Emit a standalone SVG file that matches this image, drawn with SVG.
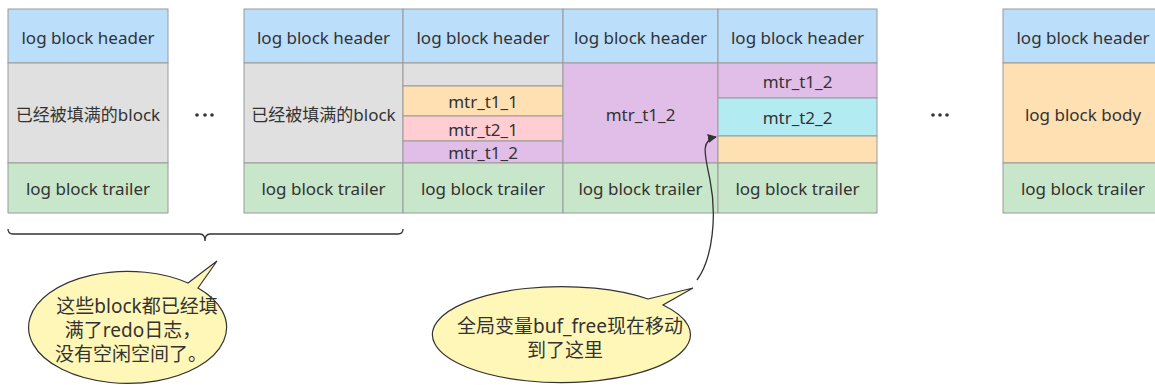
<svg xmlns="http://www.w3.org/2000/svg" width="1155" height="385" viewBox="0 0 1155 385">
<defs>
<style>
.c{stroke:#9a9a9a;stroke-width:1}
.hd{fill:#bbdefb}.gr{fill:#e0e0e0}.tr{fill:#c8e6c9}.or{fill:#ffe0b2}.pk{fill:#ffcdd2}.pu{fill:#e1bee7}.cy{fill:#b2ebf2}
text{font-family:"Noto Sans","Noto Sans CJK SC",sans-serif;font-size:17px;fill:#333;text-anchor:middle;dominant-baseline:central}
.big{font-size:19px}
.bub{fill:#fff7b8;stroke:#333;stroke-width:1.2}
.ln{fill:none;stroke:#333;stroke-width:1.3}
</style>
<marker id="ah" viewBox="0 0 10 10" refX="9" refY="5" markerWidth="9" markerHeight="9" markerUnits="userSpaceOnUse" orient="auto">
<path d="M0,0 L10,5 L0,10 z" fill="#333"/>
</marker>
</defs>
<rect width="1155" height="385" fill="#fff"/>

<g id="block1">
<rect class="c hd" x="8" y="9" width="160" height="54"/><text x="88" y="37">log block header</text>
<rect class="c gr" x="8" y="63" width="160" height="100"/><text x="88" y="114">已经被填满的block</text>
<rect class="c tr" x="8" y="163" width="160" height="50"/><text x="88" y="188">log block trailer</text>
</g>

<g id="dots1" fill="#333"><circle cx="197" cy="115" r="1.8"/><circle cx="205" cy="115" r="1.8"/><circle cx="212" cy="115" r="1.8"/></g>

<g id="block2">
<rect class="c hd" x="244" y="9" width="159" height="54"/><text x="323.5" y="37">log block header</text>
<rect class="c gr" x="244" y="63" width="159" height="100"/><text x="323.5" y="114">已经被填满的block</text>
<rect class="c tr" x="244" y="163" width="159" height="50"/><text x="323.5" y="188">log block trailer</text>
</g>

<g id="block3">
<rect class="c hd" x="403" y="9" width="160" height="54"/><text x="483" y="37">log block header</text>
<rect class="c gr" x="403" y="63" width="160" height="23"/>
<rect class="c or" x="403" y="86" width="160" height="30"/><text x="483" y="101.5">mtr_t1_1</text>
<rect class="c pk" x="403" y="116" width="160" height="25"/><text x="483" y="129">mtr_t2_1</text>
<rect class="c pu" x="403" y="141" width="160" height="22"/><text x="483" y="152.5">mtr_t1_2</text>
<rect class="c tr" x="403" y="163" width="160" height="50"/><text x="483" y="188">log block trailer</text>
</g>

<g id="block4">
<rect class="c hd" x="563" y="9" width="155" height="54"/><text x="640.5" y="37">log block header</text>
<rect class="c pu" x="563" y="63" width="155" height="100"/><text x="640.5" y="114">mtr_t1_2</text>
<rect class="c tr" x="563" y="163" width="155" height="50"/><text x="640.5" y="188">log block trailer</text>
</g>

<g id="block5">
<rect class="c hd" x="718" y="9" width="159" height="54"/><text x="797.5" y="37">log block header</text>
<rect class="c pu" x="718" y="63" width="159" height="35"/><text x="797.5" y="81">mtr_t1_2</text>
<rect class="c cy" x="718" y="98" width="159" height="38"/><text x="797.5" y="117.5">mtr_t2_2</text>
<rect class="c or" x="718" y="136" width="159" height="27"/>
<rect class="c tr" x="718" y="163" width="159" height="50"/><text x="797.5" y="188">log block trailer</text>
</g>

<g id="dots2" fill="#333"><circle cx="933" cy="115" r="1.8"/><circle cx="940" cy="115" r="1.8"/><circle cx="947" cy="115" r="1.8"/></g>

<g id="block6">
<rect class="c hd" x="1003" y="9" width="160" height="54"/><text x="1083" y="37">log block header</text>
<rect class="c or" x="1003" y="63" width="160" height="100"/><text x="1083" y="114">log block body</text>
<rect class="c tr" x="1003" y="163" width="160" height="50"/><text x="1083" y="188">log block trailer</text>
</g>

<g id="connectors">
<path class="ln" d="M8,229 Q8,234 13,234 L200,234 Q205,234 205,241 Q205,234 210,234 L398,234 Q403,234 403,229"/>
<path class="ln" d="M697,280 C713,258 717,215 710,180 C705,155 700,140 716,137" marker-end="url(#ah)"/>
</g>

<g id="callout1">
<path class="bub" d="M188,283 L217,261 L198,288 A99,56 0 1 1 188,283 Z"/>
<text class="big" x="137" y="306">这些block都已经填</text>
<text class="big" x="133" y="330">满了redo日志，</text>
<text class="big" x="131" y="354">没有空闲空间了。</text>
</g>

<g id="callout2">
<path class="bub" d="M648,299 L693,288 L663,305 A129,48 0 1 1 648,299 Z"/>
<text class="big" x="570" y="326">全局变量buf_free现在移动</text>
<text class="big" x="565" y="350">到了这里</text>
</g>
</svg>
